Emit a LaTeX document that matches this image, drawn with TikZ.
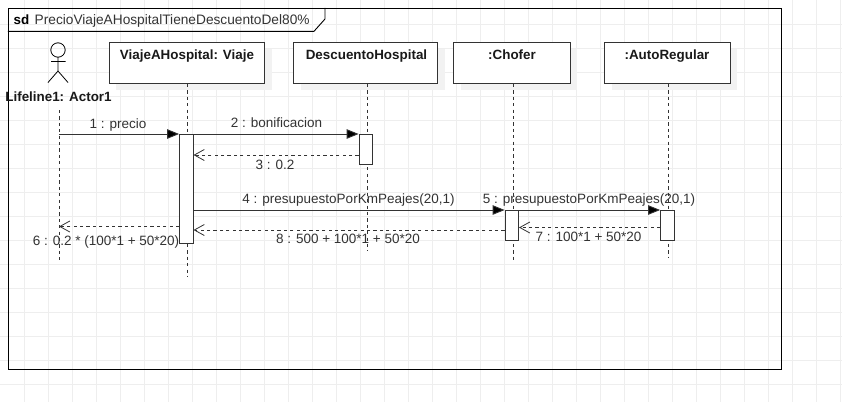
\documentclass[tikz,border=0pt]{standalone}
\usepackage{fontspec}
\setmainfont{Liberation Sans}
\usetikzlibrary{arrows.meta,shadows}
\definecolor{gridc}{HTML}{EEEEEE}
\definecolor{ink}{HTML}{333333}
\tikzset{
  x=1pt,y=-1pt,
  objbox/.style={draw=ink,line width=0.9pt,fill=white,inner sep=0pt,anchor=north west,
    general shadow={fill=black!5,shadow xshift=7pt,shadow yshift=-7pt}},
  objtext/.style={font=\bfseries\fontsize{13.4}{15}\selectfont,text=black!90,inner sep=0pt},
  lifeline/.style={draw=ink,line width=0.9pt,dash pattern=on 3.2pt off 3.2pt},
  activation/.style={draw=ink,line width=0.9pt,fill=white,inner sep=0pt,minimum width=13.5pt,anchor=north},
  msg/.style={draw=ink,line width=0.9pt,-{Triangle[length=12pt,width=9.5pt,fill=black]}},
  reply/.style={draw=ink,line width=0.9pt,dash pattern=on 3.2pt off 3.2pt,-{Straight Barb[length=10pt,width=11pt,line width=0.8pt]}},
  lbl/.style={font=\fontsize{13.5}{15}\selectfont,text=ink,inner sep=0pt},
}
\begin{document}
\begin{tikzpicture}
\useasboundingbox (0,0) rectangle (842,402);
\fill[white] (0,0) rectangle (842,402);
\foreach \i in {1,...,35} \draw[gridc,line width=0.7pt] ({24*\i+0.7},0) -- ({24*\i+0.7},402);
\foreach \i in {1,...,16} \draw[gridc,line width=0.7pt] (0,{24*\i}) -- (842,{24*\i});
% frame
\node[draw=black,line width=0.9pt,inner sep=0pt,anchor=north west,minimum width=773pt,minimum height=361.5pt] (frame) at (7.8,7.8) {};
\coordinate (tabA) at (7.8,31.3);
\coordinate (tabB) at (314,31.3);
\coordinate (tabC) at (325,19);
\coordinate (tabD) at (325,7.8);
\draw[black,line width=0.9pt] (tabA) -- (tabB) -- (tabC) -- (tabD);
\node[anchor=base west,inner sep=0pt,font=\bfseries\fontsize{13.4}{15}\selectfont] (sd) at (13.5,24) {sd};
\node[lbl,anchor=base west,font=\fontsize{13.7}{15}\selectfont] (title) at (34.5,24) {PrecioViajeAHospitalTieneDescuentoDel80\%};
% actor
\draw[black,line width=0.8pt] (58,50) circle (7.2);
\coordinate (neck) at (58,57.2); \coordinate (hip) at (58,71);
\coordinate (armL) at (51,61.5); \coordinate (armR) at (65.5,61.5);
\coordinate (legL) at (48,82.5); \coordinate (legR) at (68,82.5);
\draw[black,line width=0.8pt] (neck) -- (hip) (armL) -- (armR) (legL) -- (hip) -- (legR);
\node[objtext,anchor=base] (actor) at (58.5,101.5) {Lifeline1: Actor1};
% lifelines
\coordinate (l0a) at (59,110); \coordinate (l0b) at (59,263);
\coordinate (l1b) at (187.5,276); \coordinate (l2b) at (367,251);
\coordinate (l3b) at (513,262); \coordinate (l4b) at (668,258);
% object boxes
\node[objbox,minimum width=155.5pt,minimum height=41.5pt] (o1) at (108.7,41.5) {};
\node[objbox,minimum width=144pt,minimum height=41.5pt] (o2) at (293.3,41.5) {};
\node[objbox,minimum width=116.5pt,minimum height=41.5pt] (o3) at (453.3,41.5) {};
\node[objbox,minimum width=125.5pt,minimum height=41.5pt] (o4) at (604.3,41.5) {};
\node[objtext,anchor=base] (t1) at (187,59) {ViajeAHospital: Viaje};
\node[objtext,anchor=base] (t2) at (366.5,59) {DescuentoHospital};
\node[objtext,anchor=base] (t3) at (512,59) {:Chofer};
\node[objtext,anchor=base] (t4) at (667,59) {:AutoRegular};
\draw[lifeline] (o1.south -| l1b) -- (l1b);
\draw[lifeline] (o2.south -| l2b) -- (l2b);
\draw[lifeline] (o3.south -| l3b) -- (l3b);
\draw[lifeline] (o4.south -| l4b) -- (l4b);
\draw[lifeline] (l0a) -- (l0b);
% activations
\node[activation,minimum height=109pt] (a1) at (186.3,134) {};
\node[activation,minimum height=29.5pt] (a2) at (365.8,134) {};
\node[activation,minimum height=29.5pt] (a3) at (511.8,210) {};
\node[activation,minimum height=29.5pt] (a4) at (667.3,210) {};
% messages
\coordinate (m1) at (59,134);
\draw[msg] (m1) -- (a1.north west);
\draw[msg] (a1.north east) -- (a2.north west);
\coordinate (m3) at (0,155);
\draw[reply] (a2.west |- m3) -- (a1.east |- m3);
\coordinate (m4) at (0,210);
\draw[msg] (a1.east |- m4) -- (a3.north west);
\draw[msg] (a3.north east) -- (a4.north west);
\coordinate (m7) at (0,227.5);
\draw[reply] (a4.west |- m7) -- (a3.east |- m7);
\coordinate (m8) at (0,230);
\draw[reply] (a3.west |- m8) -- (a1.east |- m8);
\coordinate (m6) at (0,226.5);
\draw[reply] (a1.west |- m6) -- (l0a |- m6);
% labels
\node[lbl,anchor=base] (n1) at (118,128) {1 : precio};
\node[lbl,anchor=base] (n2) at (276.5,127.5) {2 : bonificacion};
\node[lbl,anchor=base] (n3) at (275,169.5) {3 : 0.2};
\node[lbl,anchor=base] (n4) at (348.5,203.5) {4 : presupuestoPorKmPeajes(20,1)};
\node[lbl,anchor=base] (n5) at (589,203.5) {5 : presupuestoPorKmPeajes(20,1)};
\node[lbl,anchor=base] (n6) at (106,245) {6 : 0.2 * (100*1 + 50*20)};
\node[lbl,anchor=base] (n7) at (588.5,241.5) {7 : 100*1 + 50*20};
\node[lbl,anchor=base] (n8) at (348,243.5) {8 : 500 + 100*1 + 50*20};
\end{tikzpicture}
\end{document}
